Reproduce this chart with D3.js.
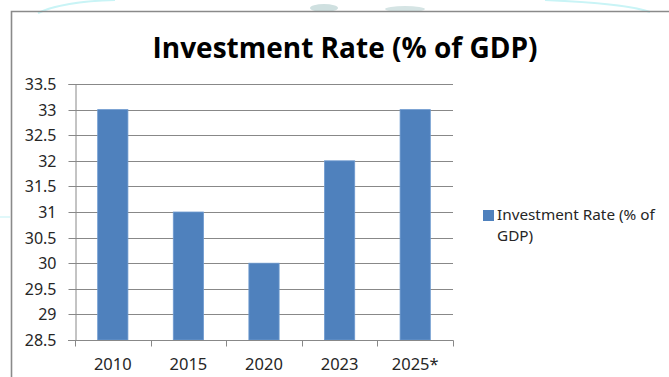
<!DOCTYPE html>
<html>
<head>
<meta charset="utf-8">
<script src="https://cdn.jsdelivr.net/npm/d3@7"></script>
<style>
  html, body { margin: 0; padding: 0; background: #fff; }
  svg { display: block; }
</style>
</head>
<body>
<svg id="chart" width="669" height="377"></svg>
<script>
// Chart data
const years = ["2010", "2015", "2020", "2023", "2025*"];
const investmentRate = [33, 31, 30, 32, 33];
const yTicks = [28.5, 29, 29.5, 30, 30.5, 31, 31.5, 32, 32.5, 33, 33.5];
const titleText = "Investment Rate (% of GDP)";
const legendLines = ["Investment Rate (% of", "GDP)"];

const W = 669, H = 377;
const plot = { left: 75, right: 453, top: 84, bottom: 340 };
const barColor = "#4F81BD";
const gridColor = "#888888";
const labelFont = "'Noto Sans', 'Open Sans', sans-serif";

const svg = d3.select("#chart");

// faint background decoration at the top edge
const deco = svg.append("g");
deco.append("path")
  .attr("d", "M38,13 C55,5 80,1 115,0")
  .attr("fill", "none").attr("stroke", "#c9f4f6").attr("stroke-width", 2);
deco.append("path")
  .attr("d", "M545,0 C590,2 630,5 650,12")
  .attr("fill", "none").attr("stroke", "#c9f4f6").attr("stroke-width", 2);
deco.append("ellipse").attr("cx", 324).attr("cy", 8).attr("rx", 14).attr("ry", 4)
  .attr("fill", "#cfe0e0");
deco.append("ellipse").attr("cx", 405).attr("cy", 9).attr("rx", 20).attr("ry", 3)
  .attr("fill", "#d5e4e4");
deco.append("line").attr("x1", 0).attr("x2", 10).attr("y1", 217).attr("y2", 217)
  .attr("stroke", "#d6f6f8").attr("stroke-width", 1.5);

// chart frame
svg.append("path")
  .attr("d", `M11.5,${H} V11.5 H${W}`)
  .attr("fill", "none").attr("stroke", "#8a8a8a").attr("stroke-width", 1.6);

// scales
const x = d3.scaleBand()
  .domain(years)
  .range([plot.left, plot.right])
  .paddingInner(0.6)
  .paddingOuter(0.3);
const step = x.step();

const y = d3.scaleLinear()
  .domain([28.5, 33.5])
  .range([plot.bottom, plot.top]);

// horizontal gridlines
svg.append("g")
  .selectAll("line")
  .data(yTicks.filter(t => t > 28.5))
  .join("line")
  .attr("x1", plot.left).attr("x2", plot.right)
  .attr("y1", d => Math.round(y(d)) + 0.5).attr("y2", d => Math.round(y(d)) + 0.5)
  .attr("stroke", gridColor).attr("stroke-width", 1);

// y axis
const yAxis = svg.append("g")
  .attr("transform", `translate(${plot.left + 0.5},0)`)
  .call(d3.axisLeft(y).tickValues(yTicks).tickSize(7).tickPadding(12)
    .tickFormat(d => String(d)));
yAxis.select(".domain").attr("stroke", gridColor);
yAxis.selectAll(".tick line").attr("stroke", gridColor);
yAxis.selectAll(".tick").attr("transform", d => `translate(0,${Math.round(y(d)) + 0.5})`);
yAxis.selectAll("text")
  .attr("font-family", labelFont).attr("font-size", 16).attr("fill", "#262626");

// bars
svg.append("g")
  .selectAll("rect")
  .data(years.map((yr, i) => ({ yr, v: investmentRate[i] })))
  .join("rect")
  .attr("x", d => x(d.yr))
  .attr("y", d => y(d.v))
  .attr("width", x.bandwidth())
  .attr("height", d => y(28.5) - y(d.v))
  .attr("fill", barColor)
  .attr("stroke", "#6f9bd0").attr("stroke-width", 0.8);

// x axis (category boundary ticks)
const xb = svg.append("g").attr("transform", `translate(0,${Math.round(y(28.5)) + 0.5})`);
xb.append("line")
  .attr("x1", plot.left - 7).attr("x2", plot.right + 0.5)
  .attr("stroke", gridColor);
xb.selectAll("line.tk")
  .data(d3.range(years.length + 1))
  .join("line").attr("class", "tk")
  .attr("x1", i => Math.round(plot.left + i * step) + 0.5)
  .attr("x2", i => Math.round(plot.left + i * step) + 0.5)
  .attr("y1", 0).attr("y2", 6)
  .attr("stroke", gridColor);
xb.selectAll("text")
  .data(years)
  .join("text")
  .attr("x", d => x(d) + x.bandwidth() / 2)
  .attr("y", 29)
  .attr("text-anchor", "middle")
  .attr("font-family", labelFont).attr("font-size", 16.5).attr("fill", "#262626")
  .text(d => d);

// title
svg.append("text")
  .attr("x", 345).attr("y", 58)
  .attr("text-anchor", "middle")
  .attr("font-family", "'Open Sans', 'Noto Sans', sans-serif")
  .attr("font-weight", "bold")
  .attr("font-size", 28)
  .attr("textLength", 385)
  .attr("lengthAdjust", "spacingAndGlyphs")
  .attr("fill", "#000")
  .text(titleText);

// legend
const lg = svg.append("g");
lg.append("rect")
  .attr("x", 483).attr("y", 210).attr("width", 11).attr("height", 11)
  .attr("fill", barColor);
lg.selectAll("text")
  .data(legendLines)
  .join("text")
  .attr("x", 497)
  .attr("y", (d, i) => 220 + i * 20.5)
  .attr("font-family", labelFont).attr("font-size", 15.3).attr("fill", "#262626")
  .text(d => d);
</script>
</body>
</html>
